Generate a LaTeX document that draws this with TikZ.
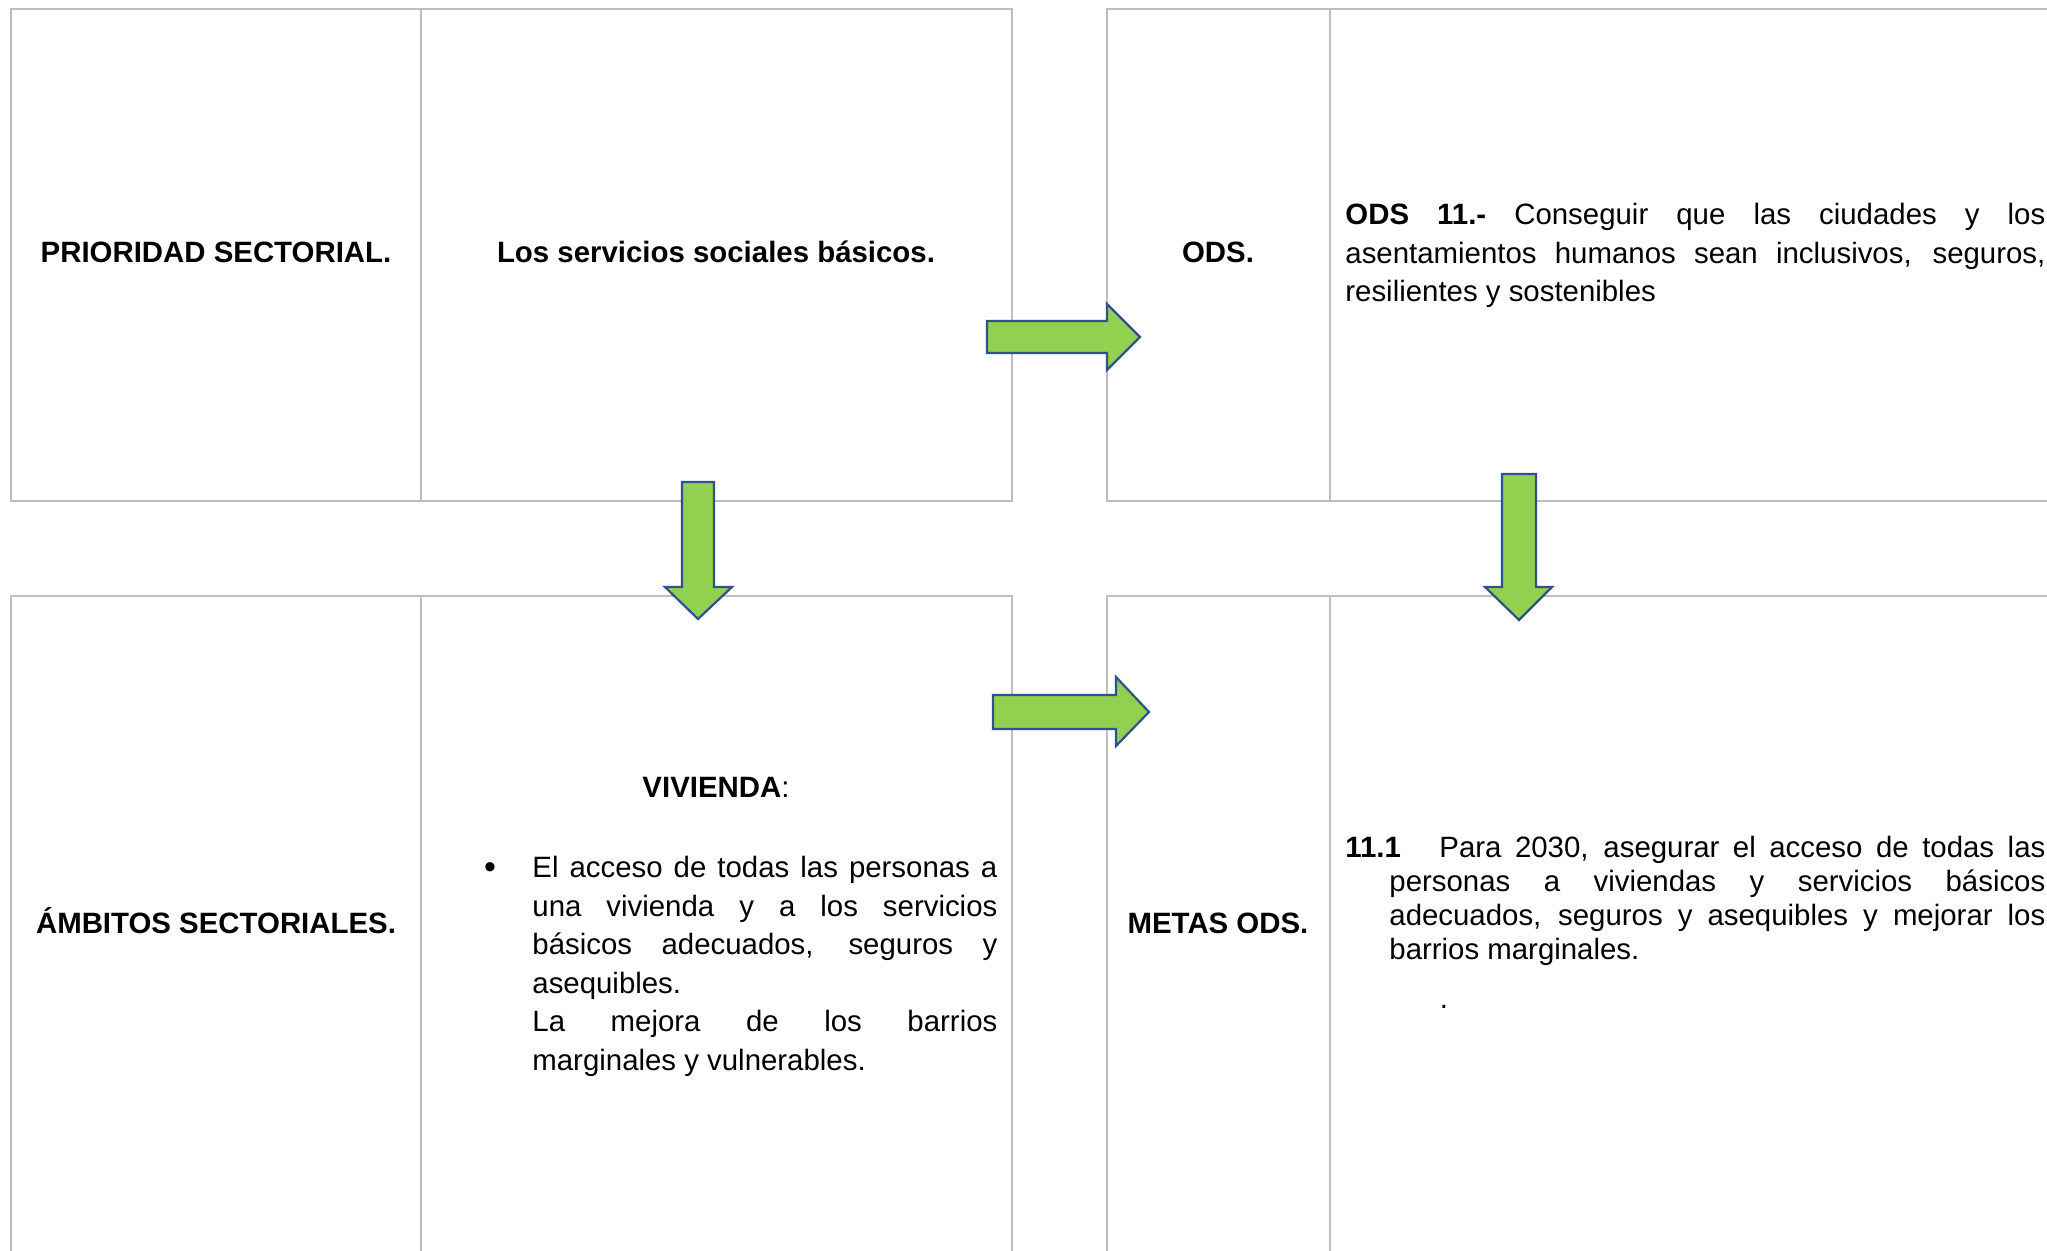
\documentclass[tikz,border=0pt]{standalone}
\usepackage{fontspec}
\setmainfont{Liberation Sans}
\definecolor{gridgray}{HTML}{BFBFBF}
\definecolor{arrowfill}{HTML}{92D050}
\definecolor{arrowedge}{HTML}{2F528F}
\begin{document}
\begin{tikzpicture}[x=0.5pt,y=-0.5pt,
  cellline/.style={draw=gridgray,line width=0.7pt},
  blockarrow/.style={fill=arrowfill,draw=arrowedge,line width=1.1pt,line join=miter},
  celltitle/.style={font=\fontsize{14.7}{17}\selectfont\bfseries,inner sep=0pt,anchor=base},
  plainlabel/.style={font=\fontsize{14.7}{17}\selectfont,inner sep=0pt,anchor=base},
  celltext/.style={inner sep=0pt,anchor=north west,align=justify}]
\useasboundingbox[fill=white] (0,0) rectangle (2047,1251);
% table lines
\draw[cellline] (11,9) rectangle (1012,501);
\draw[cellline] (421,9) -- (421,501);
\draw[cellline] (2047,9) -- (1107,9) -- (1107,501) -- (2047,501);
\draw[cellline] (1330,9) -- (1330,501);
\draw[cellline] (11,1251) -- (11,596) -- (1012,596) -- (1012,1251);
\draw[cellline] (421,596) -- (421,1251);
\draw[cellline] (2047,596) -- (1107,596) -- (1107,1251);
\draw[cellline] (1330,596) -- (1330,1251);
% texts
\node[celltitle] (prio) at (216,263) {PRIORIDAD SECTORIAL.};
\node[celltitle] (serv) at (716,263) {Los servicios sociales básicos.};
\node[celltitle] (ods) at (1218,263) {ODS.};
\node[celltext,text width=350pt,font=\fontsize{14.7}{19.4}\selectfont] (odstext) at (1345,200)
  {\parindent=0pt\rule{0pt}{12pt}\textbf{ODS 11.-} Conseguir que las ciudades y los\linebreak asentamientos humanos sean inclusivos, seguros,\linebreak resilientes y sostenibles};
\node[celltitle] (amb) at (216,933) {ÁMBITOS SECTORIALES.};
\node[celltitle] (metas) at (1218,933) {METAS ODS.};
\node[plainlabel] (viv) at (716,797) {\textbf{VIVIENDA}:};
\node[plainlabel,font=\fontsize{17}{17}\selectfont] (bul) at (490,878) {•};
\node[celltext,text width=232.5pt,font=\fontsize{14.7}{19.3}\selectfont] (vivtext) at (532,853)
  {\parindent=0pt\rule{0pt}{12pt}El acceso de todas las personas a\linebreak una vivienda y a los servicios\linebreak básicos adecuados, seguros y\linebreak asequibles.\par La mejora de los barrios\linebreak marginales y vulnerables.};
\node[celltext,text width=350pt,font=\fontsize{14.7}{17}\selectfont] (metatext) at (1345,833)
  {\parindent=0pt\leftskip=22pt\rule{0pt}{12pt}\hskip-22pt\makebox[47pt][l]{\textbf{11.1}}Para 2030, asegurar el acceso de todas las\linebreak personas a viviendas y servicios básicos\linebreak adecuados, seguros y asequibles y mejorar los\linebreak barrios marginales.\par};
\node[plainlabel] (dot) at (1444,1008) {.};
% block arrows
\draw[blockarrow] (987,321) -- (1107,321) -- (1107,304) -- (1140,337) -- (1107,370) -- (1107,353) -- (987,353) -- cycle;
\draw[blockarrow] (993,695) -- (1116,695) -- (1116,677) -- (1149,712) -- (1116,746) -- (1116,729) -- (993,729) -- cycle;
\draw[blockarrow] (682,482) -- (714,482) -- (714,587) -- (732,587) -- (698,619) -- (665,587) -- (682,587) -- cycle;
\draw[blockarrow] (1502,474) -- (1536,474) -- (1536,587) -- (1552,587) -- (1519,620) -- (1485,587) -- (1502,587) -- cycle;
\end{tikzpicture}
\end{document}
